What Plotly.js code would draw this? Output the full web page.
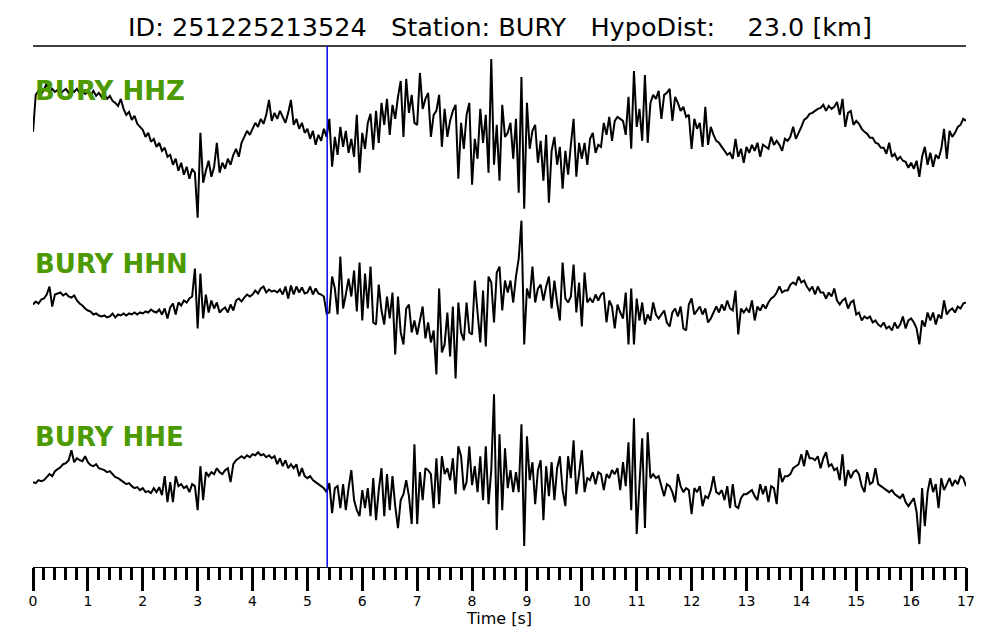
<!DOCTYPE html>
<html><head><meta charset="utf-8">
<script src="https://cdn.plot.ly/plotly-3.0.1.min.js"></script>
<style>html,body{margin:0;padding:0;background:#fff}</style>
</head><body>
<div id="chart" style="width:1000px;height:640px"></div>
<script>
// Seismogram samples (relative amplitude), sampled every 0.05 s from t = 0 s
const startTime = 0;
const sampleInterval = 0.05;
const pickTime = 5.36;   // P pick (blue marker), seconds
const channelNames = ['BURY HHZ', 'BURY HHN', 'BURY HHE'];
const titleText = 'ID: 251225213524   Station: BURY   HypoDist:    23.0 [km]';
const xTitle = 'Time [s]';
const tickValues = [0,1,2,3,4,5,6,7,8,9,10,11,12,13,14,15,16,17];
const tickLabels = ['0','1','2','3','4','5','6','7','8','9','10','11','12','13','14','15','16','17'];

const hhz = [
 1, 38, 42, 39, 43, 50, 40, 44, 41, 43, 39, 42, 44, 40, 43, 41, 44, 40, 42, 39,
 41, 38, 42, 37, 40, 36, 39, 34, 37, 32, 30, 27, 34, 24, 18, 21, 13, 17, 9, 6,
 3, -4, 0, -9, -6, -14, -10, -18, -15, -24, -22, -32, -26, -38, -30, -42, -34, -46, -36, -40,
 -85, 0, -50, -38, -28, -44, -34, -10, -40, -30, -36, -26, -32, -22, -16, -24, -10, -4, 2, -2,
 4, 10, 6, 14, 9, 18, 33, 12, 20, 14, 22, 16, 10, 20, 33, 8, 14, 4, 10, 0,
 4, -6, 2, -12, -2, -8, 4, -4, 14, -34, -4, -22, 6, -14, 2, -20, -6, -24, 18, -40,
 0, -16, 10, 19, -17, 22, -10, 30, 8, 34, -2, 28, 14, 36, 52, -4, 54, 20, 38, 10,
 8, 60, 24, 34, 40, -4, 18, 22, 38, -14, 24, -4, 12, 22, 28, -46, 10, -16, 18, 30,
 -52, -6, -26, 24, -10, 18, -40, 74, -32, 8, -48, 28, -4, 0, 10, -26, 14, -60, 56, -76,
 30, -16, 2, 8, -30, -8, -48, -2, -70, -18, -4, -32, -14, -56, -18, -42, -12, 14, -44, -10,
 -26, -10, -32, -6, 0, -20, -12, -14, 10, -2, 16, -8, 12, 16, 14, 12, -2, 36, -16, 62,
 6, 24, -8, 58, -10, 30, 38, 34, 42, 14, 38, 40, 44, 12, 36, 30, 22, 26, 16, 18,
 -16, 14, 4, 10, -14, 26, -12, 6, -2, -8, -10, -14, -18, -22, -20, -26, -6, -24, -16, -30,
 -14, -20, -12, -18, -10, -24, -12, -14, -16, -4, -12, -8, -12, -18, -6, -8, -4, 6, -6, 0,
 6, 13, 15, 19, 20, 22, 24, 25, 28, 22, 27, 24, 26, 31, 18, 34, 6, 20, 22, 8,
 12, 9, 4, 1, -1, -5, -5, -10, -11, -15, -15, -21, -10, -24, -21, -27, -24, -28, -29, -35,
 -30, -36, -28, -44, -24, -14, -32, -20, -34, -22, -26, -16, 4, -26, 2, -4, 0, 6, 8, 14,
 12
];

const hhn = [
 2, 5, 3, 7, 8, 12, 20, 0, 12, 13, 14, 11, 13, 10, 9, 11, 6, 3, 1, -2,
 -4, -5, -8, -7, -9, -10, -9, -11, -10, -7, -11, -8, -9, -7, -9, -7, -8, -6, -8, -6,
 -7, -5, -6, -3, -5, -6, -3, -8, -2, -12, -1, 3, -8, 4, 1, 6, 4, 8, 10, 38,
 -22, 33, -12, 12, -6, 6, -2, 4, -6, -3, -1, -6, 2, -4, 6, 8, 5, 9, 12, 10,
 12, 16, 13, 18, 20, 14, 17, 15, 16, 14, 17, 12, 20, 8, 21, 12, 20, 14, 19, 13,
 14, 20, 12, 18, 13, 12, 10, -7, -6, 30, 18, -8, 50, -2, 12, 28, 10, 36, -5, 44,
 -14, 33, -2, 40, -16, -18, 22, -4, -18, 10, -12, 14, -48, 10, -26, -38, -2, 2, -26, -14,
 -28, -14, 0, -32, -16, -36, -24, -68, 18, -46, -38, -6, -50, 0, -72, 4, -26, -34, 4, -26,
 -28, 26, -6, -36, 16, -40, 30, 24, -16, 34, 40, -4, 26, 14, 26, 4, 30, 48, 86, -38,
 18, 8, 40, 4, 18, 22, 6, 20, 30, -2, 26, 4, -14, 44, 8, 4, 10, 42, -6, 24,
 -20, 34, 4, 8, 4, 12, 6, 12, 14, -16, 6, 0, -22, 2, -6, -12, 14, -38, 18, -38,
 8, -14, 4, -18, -8, -14, 4, -8, -12, -8, -4, -16, -20, -6, -2, -10, 0, -22, -24, 2,
 8, -8, -4, 0, -8, -2, -16, -12, -6, 0, -6, 2, -4, 6, -2, -4, 16, -28, -2, -6,
 -2, -6, 6, -14, 0, -4, 2, -2, 4, 8, 10, 14, 20, 14, 16, 16, 22, 24, 22, 30,
 24, 26, 20, 16, 20, 12, 20, 14, 14, 8, 14, 10, 18, 6, 2, 6, 8, -2, 4, 6,
 -8, -6, -14, -10, -12, -10, -16, -14, -18, -20, -16, -22, -20, -24, -16, -22, -18, -10, -22, -14,
 -12, -16, -22, -38, -14, -20, -6, -14, -6, -18, -8, -12, 6, -8, -4, -2, -6, 0, -2, 3,
 4
];

const hhe = [
 -2, -3, 0, -1, 0, 3, 6, 4, 9, 11, 13, 16, 17, 20, 30, 18, 22, 20, 19, 24,
 18, 15, 14, 16, 12, 11, 10, 8, 9, 6, 3, 2, 0, -2, -4, -3, -6, -8, -7, -10,
 -8, -12, -11, -13, -8, -12, -7, -15, 4, -22, -2, -22, 4, -6, -4, -8, -6, -12, -4, -6,
 -30, 14, -20, 8, 4, 8, 6, 12, 8, 6, 10, 12, -2, 16, 20, 22, 24, 22, 25, 23,
 26, 25, 28, 25, 26, 23, 25, 22, 24, 16, 22, 14, 20, 12, 16, 12, 16, 4, 12, 4,
 2, 4, 0, -2, -4, -6, -8, -12, -3, -33, -8, -6, -28, -4, -30, -8, 10, -20, -30, -36,
 -10, -28, -8, -36, 2, -40, -10, 12, -36, 6, -30, 4, -26, -48, -20, -14, 0, -16, -44, 36,
 -44, 8, -20, 12, 10, 6, -28, 22, -24, 24, 6, 12, 0, 22, -14, 34, 24, -10, -2, 34,
 -5, 14, -12, 24, -20, 34, -24, 10, 86, -50, 46, -30, 32, -8, 10, -12, 8, -12, 56, -66,
 44, 0, 18, -24, 10, 20, -40, 14, -16, 18, -20, 12, 24, -10, -26, 24, 2, 40, -14, 6,
 30, -12, 2, 0, 8, -4, 8, 6, -10, 6, 2, 10, 6, 12, -10, 18, -6, 38, -30, 62,
 -54, -4, 42, -48, 48, 2, 6, 2, 4, -6, -16, -4, -6, -12, -22, 6, -6, -12, -8, -10,
 -34, -8, -12, -6, -26, -16, -18, -10, 4, -12, -14, -10, -20, -6, -28, -4, -26, -28, -18, -14,
 -14, -12, -10, -16, -20, -4, -14, -6, -22, -6, -8, -24, 12, -2, 4, 4, 6, 12, 14, 16,
 26, 14, 30, 22, 22, 20, 24, 12, 22, 28, 14, 16, 10, 12, 0, 26, -6, 10, 2, 8,
 10, 6, -6, -12, 8, -4, -2, 12, -4, -6, -8, -10, -12, -10, -14, -16, -18, -14, -22, -26,
 -22, -18, -32, -64, -8, -46, -12, 2, -12, -4, -28, 2, -10, -4, 2, -6, 0, -4, 4, 2,
 -6
];

const channelData = [hhz, hhn, hhe];
const axisIds = ['y', 'y2', 'y3'];
const axisKeys = ['yaxis', 'yaxis2', 'yaxis3'];
const domains = [[2/3, 1], [1/3, 2/3], [0, 1/3]];
const labelY = [0.9136, 0.5816, 0.2486];
const ampLimit = 87;

const traces = channelData.map((d, i) => ({
  type: 'scatter', mode: 'lines', y: d, x0: startTime, dx: sampleInterval,
  xaxis: 'x', yaxis: axisIds[i],
  line: {color: 'black', width: 2, simplify: false},
  hoverinfo: 'skip', showlegend: false, name: channelNames[i]
}));

const layout = {
  width: 1000, height: 640,
  margin: {l: 33, r: 34, t: 46, b: 73, pad: 0},
  paper_bgcolor: 'white', plot_bgcolor: 'white',
  showlegend: false, hovermode: false,
  font: {family: 'DejaVu Sans', color: 'black'},
  title: {
    text: titleText.replace(/ /g, '\u00A0'),
    font: {family: 'DejaVu Sans', size: 25.5, color: 'black'},
    x: 0.5, xanchor: 'center', y: 0.957, yanchor: 'middle'
  },
  xaxis: {
    range: [0, 17], anchor: 'y3', fixedrange: true,
    showline: true, linecolor: 'black', linewidth: 1,
    showgrid: false, zeroline: false,
    ticks: 'outside', ticklen: 23, tickwidth: 3, tickcolor: 'black',
    tickmode: 'array', tickvals: tickValues, ticktext: tickLabels,
    ticklabelstandoff: -2,
    tickfont: {family: 'DejaVu Sans', size: 14, color: 'black'},
    minor: {dtick: 0.2, tick0: 0, ticks: 'outside', ticklen: 12, tickwidth: 3, tickcolor: 'black', showgrid: false},
    title: {text: xTitle, font: {family: 'DejaVu Sans', size: 16, color: 'black'}, standoff: 0}
  },
  shapes: [
    {type: 'line', xref: 'paper', yref: 'paper', x0: 0, x1: 1, y0: 1, y1: 1,
     line: {color: 'black', width: 1.5}},
    {type: 'line', xref: 'x', yref: 'paper', x0: pickTime, x1: pickTime, y0: 0, y1: 1,
     line: {color: '#0000ee', width: 1.5}}
  ],
  annotations: channelNames.map((n, i) => ({
    text: '<b>' + n.replace(/ /g, '\u00A0') + '</b>', xref: 'paper', yref: 'paper',
    x: 0, y: labelY[i], xanchor: 'left', yanchor: 'middle', showarrow: false,
    font: {family: 'DejaVu Sans', size: 26, color: '#4c9a00'}
  }))
};
axisKeys.forEach((k, i) => {
  layout[k] = {domain: domains[i], range: [-ampLimit, ampLimit], visible: false, fixedrange: true};
});

Plotly.newPlot('chart', traces, layout, {displayModeBar: false, staticPlot: true});
</script>
</body></html>
